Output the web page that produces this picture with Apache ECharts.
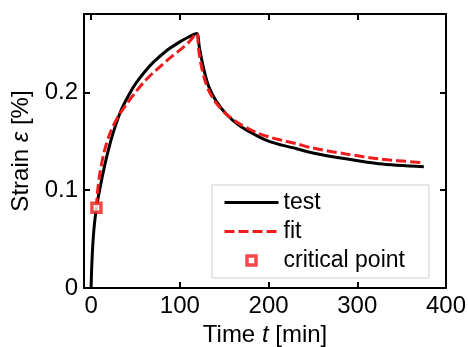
<!DOCTYPE html>
<html>
<head>
<meta charset="utf-8">
<script src="https://cdn.jsdelivr.net/npm/echarts@6/dist/echarts.min.js"></script>
<style>
  html, body { margin: 0; padding: 0; background: #fff; }
  #chart { width: 468px; height: 347px; }
</style>
</head>
<body>
<div id="chart"></div>
<script>
// measured creep test (time in min, strain in %)
const testT = [0, 1, 3, 6, 10, 15, 20, 25, 30, 35, 43, 50, 60, 70, 85, 100, 110, 119,
  122, 125, 128, 133, 141, 152, 167, 186, 200, 215, 231, 250, 287, 324, 375];
const testS = [0, 0.028, 0.058, 0.082, 0.102, 0.124, 0.143, 0.159, 0.1725, 0.184, 0.198, 0.2085, 0.2205, 0.2305, 0.2425, 0.2515, 0.2565, 0.260,
  0.246, 0.232, 0.220, 0.205, 0.191, 0.178, 0.166, 0.156, 0.150, 0.146, 0.1425, 0.138, 0.132, 0.127, 0.124];

// model fit, starts at the critical point
const fitT = [6, 7, 10, 15, 20, 25, 31, 40, 50, 60, 70, 80, 90, 100, 110, 119,
  121, 124, 128, 133, 141, 152, 167, 186, 200, 215, 231, 250, 287, 324, 375];
const fitS = [0.082, 0.096, 0.118, 0.140, 0.155, 0.166, 0.176, 0.188, 0.200, 0.211, 0.220, 0.228, 0.236, 0.243, 0.251, 0.260,
  0.245, 0.228, 0.213, 0.201, 0.189, 0.178, 0.168, 0.159, 0.1545, 0.151, 0.1475, 0.143, 0.137, 0.132, 0.128];

const criticalPoint = [6, 0.082];

const xTicks = [0, 100, 200, 300, 400];
const yTicks = [0, 0.1, 0.2];

const FONT = 'Liberation Sans, Arial, sans-serif';
const RED = '#ee1c1c';

const zip = (xs, ys) => xs.map((x, i) => [x, ys[i]]);

const chart = echarts.init(document.getElementById('chart'), null, { renderer: 'canvas' });

const axisLine = { show: true, onZero: false, lineStyle: { color: '#000', width: 2 } };
const tickStyle = (vals) => ({ show: true, inside: true, length: 6, customValues: vals, lineStyle: { color: '#000', width: 2 } });
const nameStyle = {
  color: '#000', fontSize: 24, fontFamily: FONT,
  rich: { i: { fontStyle: 'italic', fontSize: 24, fontFamily: FONT, color: '#000' } },
};
const squareStyle = { color: '#fff', borderColor: RED, borderWidth: 3.5 };

chart.setOption({
  animation: false,
  backgroundColor: '#fff',
  textStyle: { fontFamily: FONT },
  grid: { left: 84, right: 22, top: 14, bottom: 59, containLabel: false, outerBoundsMode: 'none' },
  xAxis: [
    {
      type: 'value', min: -8, max: 400,
      name: 'Time {i|t} [min]', nameLocation: 'middle', nameGap: 30,
      nameTextStyle: nameStyle,
      axisLine, axisTick: tickStyle(xTicks),
      axisLabel: { customValues: xTicks, color: '#000', fontSize: 24, fontFamily: FONT, margin: 6 },
      splitLine: { show: false },
    },
    {
      type: 'value', min: -8, max: 400, position: 'top',
      axisLine, axisTick: tickStyle(xTicks),
      axisLabel: { show: false }, splitLine: { show: false },
    },
  ],
  yAxis: [
    {
      type: 'value', min: 0, max: 0.28,
      name: 'Strain {i|ε} [%]', nameLocation: 'middle', nameGap: 49,
      nameTextStyle: nameStyle,
      axisLine, axisTick: tickStyle(yTicks),
      axisLabel: { customValues: yTicks, color: '#000', fontSize: 24, fontFamily: FONT, margin: 6 },
      splitLine: { show: false },
    },
    {
      type: 'value', min: 0, max: 0.28, position: 'right',
      axisLine, axisTick: tickStyle(yTicks),
      axisLabel: { show: false }, splitLine: { show: false },
    },
  ],
  legend: {
    orient: 'vertical', left: 212, top: 185,
    padding: [6, 24, 6, 11],
    borderColor: '#cfcfcf', borderWidth: 1, backgroundColor: '#fff',
    itemWidth: 54, itemHeight: 9, itemGap: 6,
    symbolKeepAspect: true,
    textStyle: { color: '#000', fontSize: 23, fontFamily: FONT },
    data: [
      { name: 'test', itemStyle: { opacity: 0 }, lineStyle: { width: 3 } },
      { name: 'fit', itemStyle: { opacity: 0 }, lineStyle: { width: 3 } },
      { name: 'critical point', icon: 'path://M0,0L10,0L10,10L0,10Z', itemStyle: squareStyle },
    ],
  },
  series: [
    {
      name: 'test', type: 'line', data: zip(testT, testS),
      showSymbol: false, symbol: 'none', smooth: 0.3, z: 2,
      lineStyle: { color: '#000', width: 3 }, itemStyle: { color: '#000' },
    },
    {
      name: 'fit', type: 'line', data: zip(fitT, fitS),
      showSymbol: false, symbol: 'none', smooth: 0.3, z: 3,
      lineStyle: { color: RED, width: 3, type: [10, 4] }, itemStyle: { color: RED },
    },
    {
      name: 'critical point', type: 'scatter', data: [criticalPoint],
      symbol: 'rect', symbolSize: 9, z: 4,
      itemStyle: squareStyle,
    },
  ],
});
</script>
</body>
</html>
